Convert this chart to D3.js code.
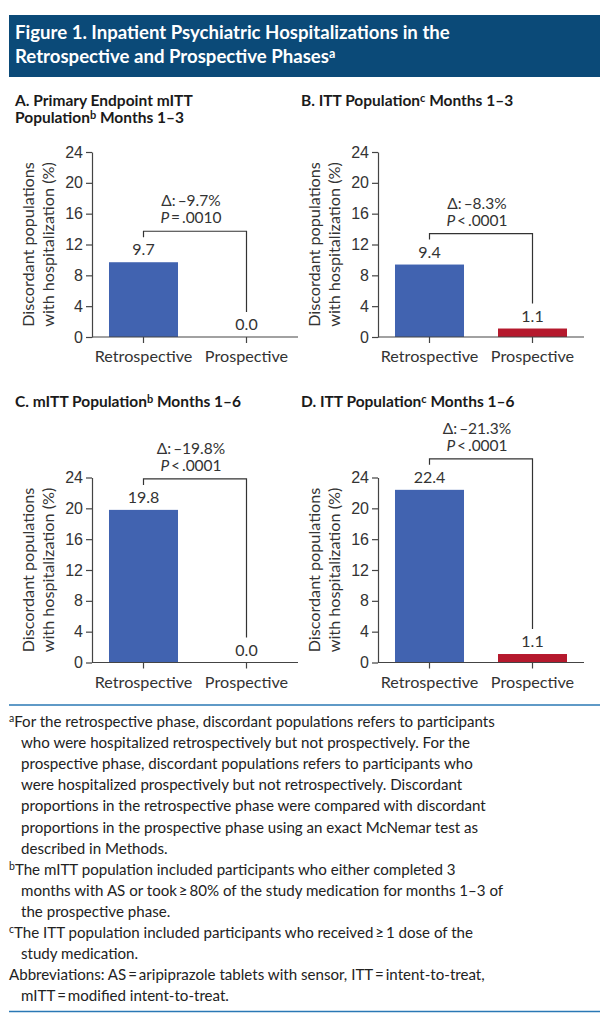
<!DOCTYPE html>
<html>
<head>
<meta charset="utf-8">
<style>
    body { margin: 0; background: #fff; }
    svg { display: block; font-family: Lato, "Open Sans", sans-serif; }
    text { fill: #222; }
    .head { fill: #fff; font-size: 18.6px; font-weight: 700; }
    .ptitle { font-size: 15.5px; font-weight: 700; fill: #1a1a1a; }
    .tick text { font-size: 16px; fill: #333; }
    .tick line, .domain { stroke: #444; stroke-width: 1.2; }
    .cat { font-size: 16.2px; fill: #333; text-anchor: middle; }
    .val { font-size: 16px; fill: #333; text-anchor: middle; }
    .ann { font-size: 15.5px; fill: #333; text-anchor: middle; }
    .ylab { font-size: 16.2px; fill: #333; text-anchor: middle; }
    .note { font-size: 15.1px; fill: #222; }
    .sup { font-size: 10.5px; }
</style>
</head>
<body>
<svg width="612" height="1024"></svg>

<script src="https://cdnjs.cloudflare.com/ajax/libs/d3/7.8.5/d3.min.js"></script>
<script>
    // data
    let phases = ["Retrospective", "Prospective"];
    let valuesA = [9.7, 0.0];
    let valuesB = [9.4, 1.1];
    let valuesC = [19.8, 0.0];
    let valuesD = [22.4, 1.1];
    let deltas = ["\u2013" + "9.7%", "\u2013" + "8.3%", "\u2013" + "19.8%", "\u2013" + "21.3%"];
    let pTexts = ["\u2009=\u2009.0010", "\u2009<\u2009.0001", "\u2009<\u2009.0001", "\u2009<\u2009.0001"];
    let yTicks = [0, 4, 8, 12, 16, 20, 24];
    let barColors = ["#4163b0", "#b5192d"];

    // title lines: [text, superscript]
    let titleLines = [
        [["Figure 1. Inpatient Psychiatric Hospitalizations in the", ""]],
        [["Retrospective and Prospective Phases", "a"]]
    ];
    let panelTitles = [
        [[["A. Primary Endpoint mITT", ""]], [["Population", "b"], [" Months 1\u20133", ""]]],
        [[["B. ITT Population", "c"], [" Months 1\u20133", ""]]],
        [[["C. mITT Population", "b"], [" Months 1\u20136", ""]]],
        [[["D. ITT Population", "c"], [" Months 1\u20136", ""]]]
    ];
    let yLabelLines = ["Discordant populations", "with hospitalization (%)"];

    // footnotes: [superscript, text, indented]
    let notes = [
        ["a", "For the retrospective phase, discordant populations refers to participants", false],
        ["", "who were hospitalized retrospectively but not prospectively. For the", true],
        ["", "prospective phase, discordant populations refers to participants who", true],
        ["", "were hospitalized prospectively but not retrospectively. Discordant", true],
        ["", "proportions in the retrospective phase were compared with discordant", true],
        ["", "proportions in the prospective phase using an exact McNemar test as", true],
        ["", "described in Methods.", true],
        ["b", "The mITT population included participants who either completed 3", false],
        ["", "months with AS or took\u2009\u2265\u200980% of the study medication for months 1\u20133 of", true],
        ["", "the prospective phase.", true],
        ["c", "The ITT population included participants who received\u2009\u2265\u20091 dose of the", false],
        ["", "study medication.", true],
        ["", "Abbreviations: AS\u2009=\u2009aripiprazole tablets with sensor, ITT\u2009=\u2009intent-to-treat,", false],
        ["", "mITT\u2009=\u2009modified intent-to-treat.", true]
    ];

    let svg = d3.select("svg");

    // header box
    svg.append("rect")
        .attr("x", 9).attr("y", 15)
        .attr("width", 591).attr("height", 62)
        .attr("fill", "#0b4a78");

    function addRich(sel, parts, supSize) {
        parts.forEach(p => {
            sel.append("tspan").text(p[0]);
            if (p[1]) {
                sel.append("tspan")
                    .attr("font-size", supSize)
                    .attr("baseline-shift", "40%")
                    .text(p[1]);
            }
        });
    }

    titleLines.forEach((line, i) => {
        let t = svg.append("text")
            .attr("class", "head")
            .attr("x", 15)
            .attr("y", 39 + i * 24);
        addRich(t, line, "12.5px");
    });

    // panels
    let panels = [
        { vals: valuesA, ox: 92, top: 152 },
        { vals: valuesB, ox: 378, top: 152 },
        { vals: valuesC, ox: 92, top: 477.5 },
        { vals: valuesD, ox: 378, top: 477.5 }
    ];
    let plotW = 206;
    let plotH = 185;

    panels.forEach((p, i) => {
        let g = svg.append("g");

        // panel title
        let ty = i < 2 ? 106 : 407;
        panelTitles[i].forEach((line, j) => {
            let t = g.append("text")
                .attr("class", "ptitle")
                .attr("x", p.ox - 77)
                .attr("y", ty + j * 17);
            addRich(t, line, "11px");
        });

        let x = d3.scaleBand()
            .domain(phases)
            .range([p.ox, p.ox + plotW])
            .paddingInner(0.33)
            .paddingOuter(0.165);

        let y = d3.scaleLinear()
            .domain([0, 24])
            .range([p.top + plotH, p.top]);

        // bars
        g.selectAll("rect.bar")
            .data(p.vals)
            .join("rect")
            .attr("class", "bar")
            .attr("x", (d, k) => x(phases[k]))
            .attr("width", x.bandwidth())
            .attr("y", d => y(d))
            .attr("height", d => y(0) - y(d))
            .attr("fill", (d, k) => barColors[k]);

        // y axis
        g.append("g")
            .attr("transform", `translate(${p.ox},0)`)
            .call(d3.axisLeft(y).tickValues(yTicks).tickSize(6).tickPadding(3).tickSizeOuter(0))
            .call(a => a.selectAll("text").attr("font-family", null).attr("font-size", null));

        // x axis
        g.append("g")
            .attr("transform", `translate(0,${y(0)})`)
            .call(d3.axisBottom(x).tickSize(6).tickSizeOuter(0).tickFormat(""))
            .call(a => a.select(".domain").attr("d", `M${p.ox},0H${p.ox + plotW}`));

        let cx = d => x(d) + x.bandwidth() / 2;

        g.selectAll("text.cat")
            .data(phases)
            .join("text")
            .attr("class", "cat")
            .attr("x", cx)
            .attr("y", y(0) + 25)
            .text(d => d);

        // value labels
        g.selectAll("text.val")
            .data(p.vals)
            .join("text")
            .attr("class", "val")
            .attr("x", (d, k) => cx(phases[k]))
            .attr("y", d => y(d) - 7)
            .text(d => d.toFixed(1));

        // bracket
        let x1 = cx(phases[0]), x2 = cx(phases[1]);
        let by = y(d3.max(p.vals)) - 31;
        g.append("path")
            .attr("d", `M${x1},${y(p.vals[0]) - 25}V${by}H${x2}V${y(p.vals[1]) - 25}`)
            .attr("fill", "none")
            .attr("stroke", "#333")
            .attr("stroke-width", 1.2);

        let mx = (x1 + x2) / 2 - 4;
        g.append("text")
            .attr("class", "ann")
            .attr("x", mx)
            .attr("y", by - 25)
            .text("\u0394:\u2009" + deltas[i]);
        let pt = g.append("text")
            .attr("class", "ann")
            .attr("x", mx)
            .attr("y", by - 8);
        pt.append("tspan").attr("font-style", "italic").text("P");
        pt.append("tspan").text(pTexts[i]);

        // y label
        let yl = g.append("text")
            .attr("class", "ylab")
            .attr("transform", `translate(${p.ox - 64},${p.top + plotH / 2}) rotate(-90)`);
        yLabelLines.forEach((l, j) => {
            yl.append("tspan")
                .attr("x", 0)
                .attr("y", j * 20)
                .attr("dy", "0.35em")
                .text(l);
        });
    });

    // rules around footnotes
    [705, 1011.5].forEach(ry => {
        svg.append("line")
            .attr("x1", 9).attr("x2", 600)
            .attr("y1", ry).attr("y2", ry)
            .attr("stroke", "#2a78b5")
            .attr("stroke-width", 1.5);
    });

    notes.forEach((n, i) => {
        let t = svg.append("text")
            .attr("class", "note")
            .attr("x", n[2] ? 21 : 9)
            .attr("y", 727 + i * 21.1);
        if (n[0]) {
            t.append("tspan").attr("class", "sup").attr("baseline-shift", "45%").text(n[0]);
        }
        t.append("tspan").text(n[1]);
    });
</script>
</body>
</html>
